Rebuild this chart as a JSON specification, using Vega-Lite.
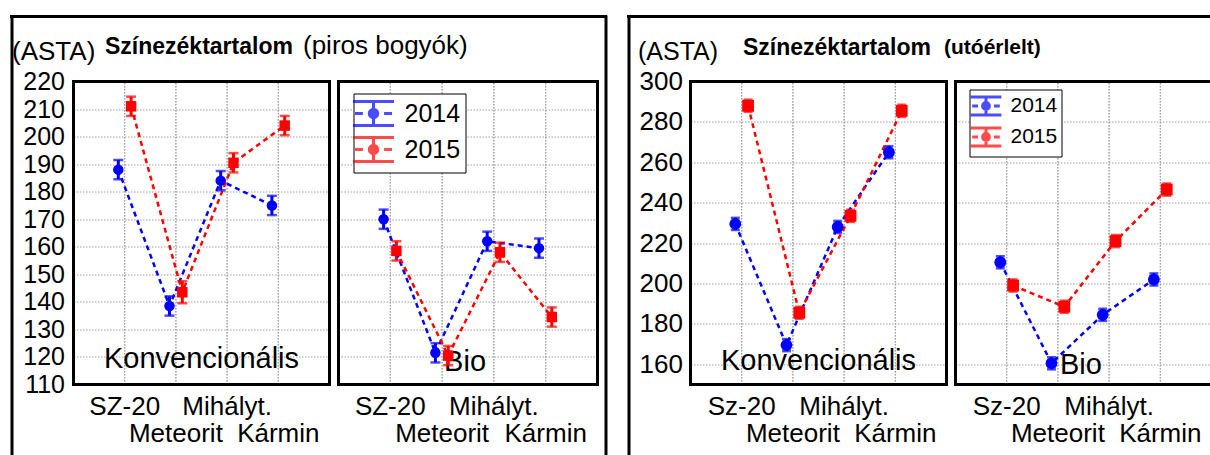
{
  "$schema": "https://vega.github.io/schema/vega-lite/v6.json",
  "padding": {"left": 8.5, "top": 13.5, "right": 0, "bottom": 0},
  "background": "white",
  "spacing": 9,
  "bounds": "flush",
  "resolve": {"legend": {"color": "independent"}},
  "datasets": {
    "pk": [
      {"variety": "SZ-20", "year": "2014", "mean": 188, "lo": 184.5, "hi": 191.5},
      {"variety": "Meteorit", "year": "2014", "mean": 138.5, "lo": 135, "hi": 142},
      {"variety": "Mihályt.", "year": "2014", "mean": 184, "lo": 180.5, "hi": 187.5},
      {"variety": "Kármin", "year": "2014", "mean": 175, "lo": 171.5, "hi": 178.5},
      {"variety": "SZ-20", "year": "2015", "mean": 211, "lo": 207.5, "hi": 214.5},
      {"variety": "Meteorit", "year": "2015", "mean": 143.5, "lo": 139.5, "hi": 147.5},
      {"variety": "Mihályt.", "year": "2015", "mean": 190.5, "lo": 187, "hi": 194},
      {"variety": "Kármin", "year": "2015", "mean": 204, "lo": 200.5, "hi": 207.5}
    ],
    "pb": [
      {"variety": "SZ-20", "year": "2014", "mean": 170, "lo": 166.5, "hi": 173.5},
      {"variety": "Meteorit", "year": "2014", "mean": 121.5, "lo": 118, "hi": 125},
      {"variety": "Mihályt.", "year": "2014", "mean": 162, "lo": 158.5, "hi": 165.5},
      {"variety": "Kármin", "year": "2014", "mean": 159.5, "lo": 156, "hi": 163},
      {"variety": "SZ-20", "year": "2015", "mean": 158.5, "lo": 155, "hi": 162},
      {"variety": "Meteorit", "year": "2015", "mean": 120.5, "lo": 117, "hi": 124},
      {"variety": "Mihályt.", "year": "2015", "mean": 158, "lo": 154.5, "hi": 161.5},
      {"variety": "Kármin", "year": "2015", "mean": 134.5, "lo": 131, "hi": 138}
    ],
    "uk": [
      {"variety": "Sz-20", "year": "2014", "mean": 229.5, "lo": 226.5, "hi": 232.5},
      {"variety": "Meteorit", "year": "2014", "mean": 169.5, "lo": 166.5, "hi": 172.5},
      {"variety": "Mihályt.", "year": "2014", "mean": 228, "lo": 225, "hi": 231},
      {"variety": "Kármin", "year": "2014", "mean": 265, "lo": 262, "hi": 268},
      {"variety": "Sz-20", "year": "2015", "mean": 288, "lo": 285, "hi": 291},
      {"variety": "Meteorit", "year": "2015", "mean": 185.5, "lo": 182.5, "hi": 188.5},
      {"variety": "Mihályt.", "year": "2015", "mean": 233.5, "lo": 230.5, "hi": 236.5},
      {"variety": "Kármin", "year": "2015", "mean": 285.5, "lo": 282.5, "hi": 288.5}
    ],
    "ub": [
      {"variety": "Sz-20", "year": "2014", "mean": 210.5, "lo": 207.5, "hi": 213.5},
      {"variety": "Meteorit", "year": "2014", "mean": 160.5, "lo": 157.5, "hi": 163.5},
      {"variety": "Mihályt.", "year": "2014", "mean": 184.5, "lo": 181.5, "hi": 187.5},
      {"variety": "Kármin", "year": "2014", "mean": 202, "lo": 199, "hi": 205},
      {"variety": "Sz-20", "year": "2015", "mean": 199, "lo": 196, "hi": 202},
      {"variety": "Meteorit", "year": "2015", "mean": 188.5, "lo": 185.5, "hi": 191.5},
      {"variety": "Mihályt.", "year": "2015", "mean": 221, "lo": 218, "hi": 224},
      {"variety": "Kármin", "year": "2015", "mean": 246.5, "lo": 243.5, "hi": 249.5}
    ]
  },
  "hconcat": [
    {
      "width": 256, "height": 440,
      "data": {"name": "pk"},
      "layer": [
        {
          "mark": {"type": "rule", "color": "#a0a0a0", "strokeDash": [1.5, 1.5], "strokeWidth": 1},
          "encoding": {
            "x": {"field": "variety", "type": "nominal",
              "scale": {"type": "band", "domain": ["SZ-20", "Meteorit", "Mihályt.", "Kármin"], "paddingInner": 0, "paddingOuter": 0.5},
              "axis": {"orient": "bottom", "offset": -72, "domain": false, "ticks": false, "grid": false, "labelAngle": 0, "labelFontSize": 26, "labelPadding": 9, "labelBaseline": "top", "labelLineHeight": 27, "labelOverlap": false,
                "labelExpr": "datum.value == 'Meteorit' || datum.value == 'Kármin' ? ['', datum.label] : datum.label",
                "title": "Színezéktartalom", "titleX": 31, "titleY": -331, "titleAlign": "left", "titleBaseline": "alphabetic", "titleAngle": 0, "titleFontSize": 23, "titleFontWeight": "bold"}},
            "y": {"datum": 110, "type": "quantitative", "scale": {"domain": [83.86, 243.6], "nice": false, "zero": false},
              "axis": {"orient": "left", "offset": 62, "values": [110, 120, 130, 140, 150, 160, 170, 180, 190, 200, 210, 220], "tickCount": 30,
                "domain": true, "domainColor": "black", "domainWidth": 3, "domainCap": "square", "ticks": false,
                "grid": true, "gridColor": "#a0a0a0", "gridDash": [1.5, 1.5], "gridWidth": 1,
                "labelFontSize": 25, "labelPadding": -53, "labelAlign": "right", "labelOverlap": false, "labelFlush": false, "labelBaseline": "middle",
                "title": "(ASTA)", "titleAngle": 0, "titleX": 0, "titleY": 43, "titleAlign": "left", "titleBaseline": "alphabetic", "titleFontSize": 26, "titleFontWeight": "normal"}},
            "y2": {"datum": 220}
          }
        },
        {
          "data": {"values": [{"panel": "Konvencionális"}]},
          "mark": {"type": "rect", "filled": false, "color": "black", "strokeWidth": 3},
          "encoding": {
            "y": {"datum": 110, "type": "quantitative"},
            "y2": {"datum": 220}
          }
        },
        {
          "data": {"values": [{"panel": "Konvencionális"}]},
          "mark": {"type": "rule", "color": "black", "strokeWidth": 3, "strokeCap": "square"},
          "encoding": {
            "x": {"datum": "SZ-20", "type": "nominal", "bandPosition": -1.711},
            "x2": {"datum": "Kármin", "bandPosition": 1.676},
            "y": {"datum": 243.6, "type": "quantitative"}
          }
        },
        {
          "data": {"values": [{"panel": "Konvencionális"}]},
          "mark": {"type": "text", "fontSize": 29, "align": "center", "baseline": "middle", "color": "black"},
          "encoding": {
            "x": {"datum": "Meteorit", "type": "nominal", "bandPosition": 1},
            "y": {"datum": 119.1, "type": "quantitative"},
            "text": {"field": "panel"}
          }
        },
        {
          "mark": {"type": "line", "strokeDash": [5, 4], "strokeWidth": 2.5},
          "encoding": {
            "x": {"field": "variety", "type": "nominal"},
            "xOffset": {"field": "year", "type": "nominal", "scale": {"domain": ["2014", "2015"], "paddingInner": 0, "paddingOuter": 3.27}},
            "y": {"field": "mean", "type": "quantitative"},
            "color": {"field": "year", "type": "nominal", "scale": {"domain": ["2014", "2015"], "range": ["#0000ff", "#ff0000"]}, "legend": null},
            "order": {"value": null}
          }
        },
        {
          "mark": {"type": "rule", "strokeWidth": 3},
          "encoding": {
            "x": {"field": "variety", "type": "nominal"},
            "xOffset": {"field": "year", "type": "nominal"},
            "y": {"field": "lo", "type": "quantitative"},
            "y2": {"field": "hi"},
            "color": {"field": "year", "type": "nominal", "legend": null}
          }
        },
        {
          "mark": {"type": "tick", "orient": "horizontal", "thickness": 2.5, "size": 10},
          "encoding": {
            "x": {"field": "variety", "type": "nominal"},
            "xOffset": {"field": "year", "type": "nominal"},
            "y": {"field": "lo", "type": "quantitative"},
            "color": {"field": "year", "type": "nominal", "legend": null}
          }
        },
        {
          "mark": {"type": "tick", "orient": "horizontal", "thickness": 2.5, "size": 10},
          "encoding": {
            "x": {"field": "variety", "type": "nominal"},
            "xOffset": {"field": "year", "type": "nominal"},
            "y": {"field": "hi", "type": "quantitative"},
            "color": {"field": "year", "type": "nominal", "legend": null}
          }
        },
        {
          "mark": {"type": "point", "filled": true, "size": 110, "opacity": 1},
          "encoding": {
            "x": {"field": "variety", "type": "nominal"},
            "xOffset": {"field": "year", "type": "nominal"},
            "y": {"field": "mean", "type": "quantitative"},
            "color": {"field": "year", "type": "nominal", "legend": null},
            "shape": {"field": "year", "type": "nominal", "scale": {"domain": ["2014", "2015"], "range": ["circle", "square"]}, "legend": null}
          }
        }
      ]
    },
    {
      "width": 259, "height": 440,
      "data": {"name": "pb"},
      "layer": [
        {
          "mark": {"type": "rule", "color": "#a0a0a0", "strokeDash": [1.5, 1.5], "strokeWidth": 1},
          "encoding": {
            "x": {"field": "variety", "type": "nominal",
              "scale": {"type": "band", "domain": ["SZ-20", "Meteorit", "Mihályt.", "Kármin"], "paddingInner": 0, "paddingOuter": 0.5},
              "axis": {"orient": "bottom", "offset": -72, "domain": false, "ticks": false, "grid": false, "labelAngle": 0, "labelFontSize": 26, "labelPadding": 9, "labelBaseline": "top", "labelLineHeight": 27, "labelOverlap": false,
                "labelExpr": "datum.value == 'Meteorit' || datum.value == 'Kármin' ? ['', datum.label] : datum.label",
                "title": "(piros bogyók)", "titleX": -36, "titleY": -331, "titleAlign": "left", "titleBaseline": "alphabetic", "titleAngle": 0, "titleFontSize": 26, "titleFontWeight": "normal"}},
            "y": {"datum": 110, "type": "quantitative", "scale": {"domain": [83.86, 243.6], "nice": false, "zero": false},
              "axis": {"orient": "right", "offset": 8, "values": [110, 120, 130, 140, 150, 160, 170, 180, 190, 200, 210, 220], "tickCount": 30,
                "domain": true, "domainColor": "black", "domainWidth": 3, "domainCap": "square", "ticks": false, "labels": false,
                "grid": true, "gridColor": "#a0a0a0", "gridDash": [1.5, 1.5], "gridWidth": 1, "title": null}},
            "y2": {"datum": 220}
          }
        },
        {
          "data": {"values": [{"panel": "Bio"}]},
          "mark": {"type": "rect", "filled": false, "color": "black", "strokeWidth": 3},
          "encoding": {
            "y": {"datum": 110, "type": "quantitative"},
            "y2": {"datum": 220}
          }
        },
        {
          "data": {"values": [{"panel": "Bio"}]},
          "mark": {"type": "rule", "color": "black", "strokeWidth": 3, "strokeCap": "square"},
          "encoding": {
            "x": {"datum": "SZ-20", "type": "nominal", "bandPosition": -0.5},
            "x2": {"datum": "Kármin", "bandPosition": 1.654},
            "y": {"datum": 243.6, "type": "quantitative"}
          }
        },
        {
          "data": {"values": [{"panel": "Bio"}]},
          "mark": {"type": "text", "fontSize": 29, "align": "left", "baseline": "middle", "color": "black", "dx": 2},
          "encoding": {
            "x": {"datum": "Meteorit", "type": "nominal"},
            "y": {"datum": 118, "type": "quantitative"},
            "text": {"field": "panel"}
          }
        },
        {
          "mark": {"type": "rule", "strokeWidth": 3},
          "encoding": {
            "x": {"field": "variety", "type": "nominal"},
            "xOffset": {"field": "year", "type": "nominal", "scale": {"domain": ["2014", "2015"], "paddingInner": 0, "paddingOuter": 3.27}},
            "y": {"field": "lo", "type": "quantitative"},
            "y2": {"field": "hi"},
            "color": {"field": "year", "type": "nominal", "scale": {"domain": ["2014", "2015"], "range": ["#0000ff", "#ff0000"]},
              "legend": {"orient": "none", "legendX": 15, "legendY": 77, "title": null,
                "symbolType": "M-1.55,-0.9H1.55M-1.55,0.9H1.55M0,-0.9V0.9M-1.4,0H-0.8M0.8,0H1.4M-0.32,0A0.32,0.32,0,1,1,0.32,0A0.32,0.32,0,1,1,-0.32,0",
                "symbolSize": 700, "symbolStrokeWidth": 3, "labelFontSize": 25, "labelOffset": 16, "padding": 5, "rowPadding": 0,
                "strokeColor": "black", "fillColor": "white", "labelColor": "black"}}
          }
        },
        {
          "mark": {"type": "line", "strokeDash": [5, 4], "strokeWidth": 2.5},
          "encoding": {
            "x": {"field": "variety", "type": "nominal"},
            "xOffset": {"field": "year", "type": "nominal"},
            "y": {"field": "mean", "type": "quantitative"},
            "color": {"field": "year", "type": "nominal"},
            "order": {"value": null}
          }
        },
        {
          "mark": {"type": "tick", "orient": "horizontal", "thickness": 2.5, "size": 10},
          "encoding": {
            "x": {"field": "variety", "type": "nominal"},
            "xOffset": {"field": "year", "type": "nominal"},
            "y": {"field": "lo", "type": "quantitative"},
            "color": {"field": "year", "type": "nominal"}
          }
        },
        {
          "mark": {"type": "tick", "orient": "horizontal", "thickness": 2.5, "size": 10},
          "encoding": {
            "x": {"field": "variety", "type": "nominal"},
            "xOffset": {"field": "year", "type": "nominal"},
            "y": {"field": "hi", "type": "quantitative"},
            "color": {"field": "year", "type": "nominal"}
          }
        },
        {
          "mark": {"type": "point", "filled": true, "size": 110, "opacity": 1},
          "encoding": {
            "x": {"field": "variety", "type": "nominal"},
            "xOffset": {"field": "year", "type": "nominal"},
            "y": {"field": "mean", "type": "quantitative"},
            "color": {"field": "year", "type": "nominal"},
            "shape": {"field": "year", "type": "nominal", "scale": {"domain": ["2014", "2015"], "range": ["circle", "square"]}, "legend": null}
          }
        }
      ]
    },
    {
      "width": 75, "height": 440,
      "data": {"values": [{"panel": "spacer"}]},
      "mark": {"type": "point", "opacity": 0},
      "encoding": {}
    },
    {
      "width": 256, "height": 440,
      "data": {"name": "uk"},
      "layer": [
        {
          "mark": {"type": "rule", "color": "#a0a0a0", "strokeDash": [1.5, 1.5], "strokeWidth": 1},
          "encoding": {
            "x": {"field": "variety", "type": "nominal",
              "scale": {"type": "band", "domain": ["Sz-20", "Meteorit", "Mihályt.", "Kármin"], "paddingInner": 0, "paddingOuter": 0.5},
              "axis": {"orient": "bottom", "offset": -72, "domain": false, "ticks": false, "grid": false, "labelAngle": 0, "labelFontSize": 26, "labelPadding": 9, "labelBaseline": "top", "labelLineHeight": 27, "labelOverlap": false,
                "labelExpr": "datum.value == 'Meteorit' || datum.value == 'Kármin' ? ['', datum.label] : datum.label",
                "title": "Színezéktartalom", "titleX": 52, "titleY": -330, "titleAlign": "left", "titleBaseline": "alphabetic", "titleAngle": 0, "titleFontSize": 23, "titleFontWeight": "bold"}},
            "y": {"datum": 150, "type": "quantitative", "scale": {"domain": [114.36, 332.18], "nice": false, "zero": false},
              "axis": {"orient": "left", "offset": 62, "values": [160, 180, 200, 220, 240, 260, 280, 300], "tickCount": 30,
                "domain": true, "domainColor": "black", "domainWidth": 3, "domainCap": "square", "ticks": false,
                "grid": true, "gridColor": "#a0a0a0", "gridDash": [1.5, 1.5], "gridWidth": 1,
                "labelFontSize": 26, "labelPadding": -54, "labelAlign": "right", "labelOverlap": false, "labelFlush": false, "labelBaseline": "middle",
                "title": "(ASTA)", "titleAngle": 0, "titleX": 9, "titleY": 43, "titleAlign": "left", "titleBaseline": "alphabetic", "titleFontSize": 25, "titleFontWeight": "normal"}},
            "y2": {"datum": 300}
          }
        },
        {
          "data": {"values": [{"panel": "Konvencionális"}]},
          "mark": {"type": "rect", "filled": false, "color": "black", "strokeWidth": 3},
          "encoding": {
            "y": {"datum": 150, "type": "quantitative"},
            "y2": {"datum": 300}
          }
        },
        {
          "data": {"values": [{"panel": "Konvencionális"}]},
          "mark": {"type": "rule", "color": "black", "strokeWidth": 3, "strokeCap": "square"},
          "encoding": {
            "x": {"datum": "Sz-20", "type": "nominal", "bandPosition": -1.711},
            "x2": {"datum": "Kármin", "bandPosition": 1.676},
            "y": {"datum": 332.18, "type": "quantitative"}
          }
        },
        {
          "data": {"values": [{"panel": "Konvencionális"}]},
          "mark": {"type": "text", "fontSize": 29, "align": "center", "baseline": "middle", "color": "black"},
          "encoding": {
            "x": {"datum": "Meteorit", "type": "nominal", "bandPosition": 1},
            "y": {"datum": 161.4, "type": "quantitative"},
            "text": {"field": "panel"}
          }
        },
        {
          "mark": {"type": "line", "strokeDash": [5, 4], "strokeWidth": 2.5},
          "encoding": {
            "x": {"field": "variety", "type": "nominal"},
            "xOffset": {"field": "year", "type": "nominal", "scale": {"domain": ["2014", "2015"], "paddingInner": 0, "paddingOuter": 3.27}},
            "y": {"field": "mean", "type": "quantitative"},
            "color": {"field": "year", "type": "nominal", "scale": {"domain": ["2014", "2015"], "range": ["#0000ff", "#ff0000"]}, "legend": null},
            "order": {"value": null}
          }
        },
        {
          "mark": {"type": "rule", "strokeWidth": 3},
          "encoding": {
            "x": {"field": "variety", "type": "nominal"},
            "xOffset": {"field": "year", "type": "nominal"},
            "y": {"field": "lo", "type": "quantitative"},
            "y2": {"field": "hi"},
            "color": {"field": "year", "type": "nominal", "legend": null}
          }
        },
        {
          "mark": {"type": "tick", "orient": "horizontal", "thickness": 2.5, "size": 9},
          "encoding": {
            "x": {"field": "variety", "type": "nominal"},
            "xOffset": {"field": "year", "type": "nominal"},
            "y": {"field": "lo", "type": "quantitative"},
            "color": {"field": "year", "type": "nominal", "legend": null}
          }
        },
        {
          "mark": {"type": "tick", "orient": "horizontal", "thickness": 2.5, "size": 9},
          "encoding": {
            "x": {"field": "variety", "type": "nominal"},
            "xOffset": {"field": "year", "type": "nominal"},
            "y": {"field": "hi", "type": "quantitative"},
            "color": {"field": "year", "type": "nominal", "legend": null}
          }
        },
        {
          "mark": {"type": "point", "filled": true, "size": 140, "opacity": 1},
          "encoding": {
            "x": {"field": "variety", "type": "nominal"},
            "xOffset": {"field": "year", "type": "nominal"},
            "y": {"field": "mean", "type": "quantitative"},
            "color": {"field": "year", "type": "nominal", "legend": null},
            "shape": {"field": "year", "type": "nominal", "scale": {"domain": ["2014", "2015"], "range": ["circle", "square"]}, "legend": null}
          }
        }
      ]
    },
    {
      "width": 256, "height": 440,
      "data": {"name": "ub"},
      "layer": [
        {
          "mark": {"type": "rule", "color": "#a0a0a0", "strokeDash": [1.5, 1.5], "strokeWidth": 1},
          "encoding": {
            "x": {"field": "variety", "type": "nominal",
              "scale": {"type": "band", "domain": ["Sz-20", "Meteorit", "Mihályt.", "Kármin"], "paddingInner": 0, "paddingOuter": 0.5},
              "axis": {"orient": "bottom", "offset": -72, "domain": false, "ticks": false, "grid": false, "labelAngle": 0, "labelFontSize": 26, "labelPadding": 9, "labelBaseline": "top", "labelLineHeight": 27, "labelOverlap": false,
                "labelExpr": "datum.value == 'Meteorit' || datum.value == 'Kármin' ? ['', datum.label] : datum.label",
                "title": "(utóérlelt)", "titleX": -12, "titleY": -331, "titleAlign": "left", "titleBaseline": "alphabetic", "titleAngle": 0, "titleFontSize": 21, "titleFontWeight": "bold"}},
            "y": {"datum": 150, "type": "quantitative", "scale": {"domain": [114.36, 332.18], "nice": false, "zero": false},
              "axis": {"orient": "left", "values": [160, 180, 200, 220, 240, 260, 280, 300], "tickCount": 30,
                "domain": false, "ticks": false, "labels": false,
                "grid": true, "gridColor": "#a0a0a0", "gridDash": [1.5, 1.5], "gridWidth": 1, "title": null}},
            "y2": {"datum": 300}
          }
        },
        {
          "data": {"values": [{"panel": "Bio"}]},
          "mark": {"type": "rect", "filled": false, "color": "black", "strokeWidth": 3},
          "encoding": {
            "y": {"datum": 150, "type": "quantitative"},
            "y2": {"datum": 300}
          }
        },
        {
          "data": {"values": [{"panel": "Bio"}]},
          "mark": {"type": "rule", "color": "black", "strokeWidth": 3, "strokeCap": "square"},
          "encoding": {
            "x": {"datum": "Sz-20", "type": "nominal", "bandPosition": -0.5},
            "x2": {"datum": "Kármin", "bandPosition": 1.7},
            "y": {"datum": 332.18, "type": "quantitative"}
          }
        },
        {
          "data": {"values": [{"panel": "Bio"}]},
          "mark": {"type": "text", "fontSize": 29, "align": "left", "baseline": "middle", "color": "black", "dx": 2},
          "encoding": {
            "x": {"datum": "Meteorit", "type": "nominal"},
            "y": {"datum": 159.9, "type": "quantitative"},
            "text": {"field": "panel"}
          }
        },
        {
          "mark": {"type": "rule", "strokeWidth": 3},
          "encoding": {
            "x": {"field": "variety", "type": "nominal"},
            "xOffset": {"field": "year", "type": "nominal", "scale": {"domain": ["2014", "2015"], "paddingInner": 0, "paddingOuter": 3.27}},
            "y": {"field": "lo", "type": "quantitative"},
            "y2": {"field": "hi"},
            "color": {"field": "year", "type": "nominal", "scale": {"domain": ["2014", "2015"], "range": ["#0000ff", "#ff0000"]},
              "legend": {"orient": "none", "legendX": 14, "legendY": 73, "title": null,
                "symbolType": "M-1.45,-0.85H1.45M-1.45,0.85H1.45M0,-0.85V0.85M-1.3,0H-0.75M0.75,0H1.3M-0.32,0A0.32,0.32,0,1,1,0.32,0A0.32,0.32,0,1,1,-0.32,0",
                "symbolSize": 450, "symbolStrokeWidth": 3, "labelFontSize": 21, "labelOffset": 12, "padding": 4, "rowPadding": 0,
                "strokeColor": "black", "fillColor": "white", "labelColor": "black"}}
          }
        },
        {
          "mark": {"type": "line", "strokeDash": [5, 4], "strokeWidth": 2.5},
          "encoding": {
            "x": {"field": "variety", "type": "nominal"},
            "xOffset": {"field": "year", "type": "nominal"},
            "y": {"field": "mean", "type": "quantitative"},
            "color": {"field": "year", "type": "nominal"},
            "order": {"value": null}
          }
        },
        {
          "mark": {"type": "tick", "orient": "horizontal", "thickness": 2.5, "size": 9},
          "encoding": {
            "x": {"field": "variety", "type": "nominal"},
            "xOffset": {"field": "year", "type": "nominal"},
            "y": {"field": "lo", "type": "quantitative"},
            "color": {"field": "year", "type": "nominal"}
          }
        },
        {
          "mark": {"type": "tick", "orient": "horizontal", "thickness": 2.5, "size": 9},
          "encoding": {
            "x": {"field": "variety", "type": "nominal"},
            "xOffset": {"field": "year", "type": "nominal"},
            "y": {"field": "hi", "type": "quantitative"},
            "color": {"field": "year", "type": "nominal"}
          }
        },
        {
          "mark": {"type": "point", "filled": true, "size": 140, "opacity": 1},
          "encoding": {
            "x": {"field": "variety", "type": "nominal"},
            "xOffset": {"field": "year", "type": "nominal"},
            "y": {"field": "mean", "type": "quantitative"},
            "color": {"field": "year", "type": "nominal"},
            "shape": {"field": "year", "type": "nominal", "scale": {"domain": ["2014", "2015"], "range": ["circle", "square"]}, "legend": null}
          }
        }
      ]
    }
  ],
  "config": {
    "view": {"stroke": null},
    "font": "Liberation Sans",
    "axis": {"labelColor": "black", "titleColor": "black", "labelFont": "Liberation Sans", "titleFont": "Liberation Sans"},
    "legend": {"labelFont": "Liberation Sans", "labelColor": "black"},
    "text": {"font": "Liberation Sans"}
  }
}
